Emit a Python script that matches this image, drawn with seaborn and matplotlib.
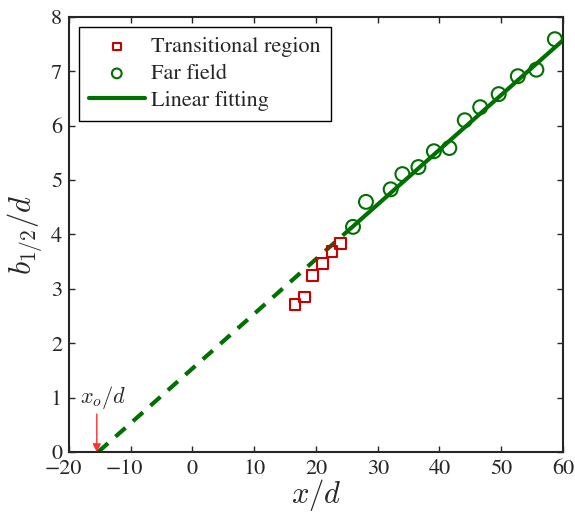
import matplotlib
matplotlib.use("Agg")
import matplotlib.pyplot as plt
import matplotlib.transforms as mtransforms
import seaborn as sns
import pandas as pd

# Transitional region (squares)
trans_x = [16.6, 18.1, 19.5, 21.0, 22.6, 24.0]
trans_y = [2.72, 2.85, 3.24, 3.46, 3.69, 3.84]

# Far field (circles)
far_x = [26.0, 28.1, 32.1, 34.0, 36.6, 39.1, 41.6, 44.1, 46.6, 49.6, 52.7, 55.7, 58.7]
far_y = [4.14, 4.60, 4.83, 5.11, 5.24, 5.53, 5.59, 6.10, 6.34, 6.58, 6.91, 7.03, 7.59]

# Linear fit over the far field and its extrapolation back to the virtual origin
fit_x = [26.0, 60.0]
fit_y = [4.15, 7.57]
ext_x = [-15.3, 26.0]
ext_y = [0.0, 4.15]
x_origin = -15.5

x_ticks = [-20, -10, 0, 10, 20, 30, 40, 50, 60]
y_ticks = [0, 1, 2, 3, 4, 5, 6, 7, 8]

sns.set_style("ticks")
plt.rcParams["font.family"] = ["STIXGeneral", "DejaVu Serif"]
plt.rcParams["mathtext.fontset"] = "cm"
plt.rcParams["axes.linewidth"] = 1.5
plt.rcParams["xtick.direction"] = "in"
plt.rcParams["ytick.direction"] = "in"

red = "#c80000"
green = "#007000"

fig = plt.figure(figsize=(5.75, 5.12), dpi=100)
ax = fig.add_axes([0.12, 0.117, 0.859, 0.85])

trans = pd.DataFrame({"x": trans_x, "y": trans_y})
far = pd.DataFrame({"x": far_x, "y": far_y})
fit = pd.DataFrame({"x": fit_x, "y": fit_y})
ext = pd.DataFrame({"x": ext_x, "y": ext_y})

sns.lineplot(data=ext, x="x", y="y", ax=ax, color=green, lw=3,
             dashes=False, linestyle=(0, (3.2, 2.4)), zorder=2)
sns.lineplot(data=fit, x="x", y="y", ax=ax, color=green, lw=3,
             label="Linear fitting", zorder=2)
sns.scatterplot(data=trans, x="x", y="y", ax=ax, marker="s", s=60,
                facecolor="none", edgecolor=red, linewidth=1.5,
                label="Transitional region", zorder=3)
sns.scatterplot(data=far, x="x", y="y", ax=ax, marker="o", s=100,
                facecolor="none", edgecolor=green, linewidth=1.5,
                label="Far field", zorder=3)

ax.set_xlim(-20, 60)
ax.set_ylim(0, 8)
ax.set_xticks(x_ticks)
ax.set_xticklabels([f"\u2212{abs(v)}" if v < 0 else f"{v}" for v in x_ticks])
ax.set_yticks(y_ticks)
ax.tick_params(axis="both", which="major", labelsize=16, length=4, width=1,
               top=True, right=True, pad=5)

# keep the digits of negative labels centred on their ticks, minus hanging left
shift = mtransforms.ScaledTranslation(-6 / 100, 0, fig.dpi_scale_trans)
for v, lab in zip(x_ticks, ax.get_xticklabels()):
    if v < 0:
        lab.set_transform(lab.get_transform() + shift)

ax.set_xlabel("$x/d$", fontsize=22, labelpad=-1)
ax.set_ylabel("$b_{1/2}/d$", fontsize=22, labelpad=4)

ax.annotate("", xy=(x_origin, 0.0), xytext=(x_origin, 0.7),
            arrowprops=dict(arrowstyle="-|>", color="#ff3030", lw=1,
                            mutation_scale=12, shrinkA=0, shrinkB=0))
ax.text(-14.4, 1.0, "$x_o/d$", fontsize=16, ha="center", va="center")

handles, labels = ax.get_legend_handles_labels()
order = [labels.index(l) for l in ["Transitional region", "Far field", "Linear fitting"]]
leg = ax.legend([handles[i] for i in order], [labels[i] for i in order],
                loc="upper left", fontsize=16, frameon=True, fancybox=False,
                edgecolor="black", framealpha=1, handlelength=2.5,
                borderaxespad=0.45, labelspacing=0.28, handletextpad=0.3,
                borderpad=0.45, markerscale=0.7)
leg.get_frame().set_linewidth(1.0)

fig.savefig("out.png", dpi=100)
